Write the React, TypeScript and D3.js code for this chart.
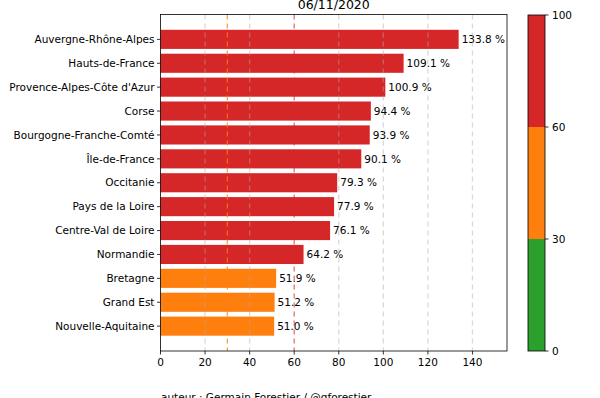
import * as d3 from 'd3';

const regions = [
  'Auvergne-Rhône-Alpes', 'Hauts-de-France', "Provence-Alpes-Côte d'Azur", 'Corse',
  'Bourgogne-Franche-Comté', 'Île-de-France', 'Occitanie', 'Pays de la Loire',
  'Centre-Val de Loire', 'Normandie', 'Bretagne', 'Grand Est', 'Nouvelle-Aquitaine',
];
const rates = [133.8, 109.1, 100.9, 94.4, 93.9, 90.1, 79.3, 77.9, 76.1, 64.2, 51.9, 51.2, 51.0];
const xTicks = [0, 20, 40, 60, 80, 100, 120, 140];
const gridTicks = [20, 40, 80, 100, 120, 140];
const cbBounds = [0, 30, 60, 100];
const cbColors = ['#2ca02c', '#ff7f0e', '#d62728'];

const W = 600, H = 398;
const left = 160.5, right = 507, top = 14.5, bottom = 351;
const font = 'DejaVu Sans, sans-serif';
const fs = 10.5;

function colorFor(v: number) {
  return v >= 60 ? '#d62728' : v >= 30 ? '#ff7f0e' : '#2ca02c';
}

export default function App() {
  const x = d3.scaleLinear().domain([0, 155.5]).range([left, right]);
  const y = d3.scaleLinear().domain([-1.04, 12 + 1.04]).range([top, bottom]);
  const bh = y(0.4) - y(-0.4);
  // boundary norm: each interval gets equal length on the colorbar
  const cb = d3.scaleLinear().domain(cbBounds).range([351, 239, 127, 15]);
  const cbL = 528, cbR = 545;

  return (
    <svg width={W} height={H} style={{ position: 'absolute', left: 0, top: 0, background: '#fff' }}
      fontFamily={font}>
      {/* bars */}
      {rates.map((v, i) => (
        <g key={regions[i]}>
          <rect x={x(0)} y={y(i) - bh / 2} width={x(v) - x(0)} height={bh} fill={colorFor(v)} />
          <text x={x(v) + 3} y={y(i)} dy="0.35em" fontSize={fs} fill="#000">
            {v.toFixed(1)} %
          </text>
          <line x1={left - 3.5} x2={left} y1={y(i)} y2={y(i)} stroke="#000" strokeWidth={0.8} />
          <text x={left - 6} y={y(i)} dy="0.35em" textAnchor="end" fontSize={fs} fill="#000">
            {regions[i]}
          </text>
        </g>
      ))}

      {/* reference lines */}
      {gridTicks.map((t) => (
        <line key={t} x1={x(t)} x2={x(t)} y1={top} y2={bottom} stroke="#aaa" strokeOpacity={0.45}
          strokeWidth={1.3} strokeDasharray="5,4" />
      ))}
      <line x1={x(30)} x2={x(30)} y1={top} y2={bottom} stroke="#ff7f0e" strokeOpacity={0.75}
        strokeWidth={1.3} strokeDasharray="5,4" />
      <line x1={x(60)} x2={x(60)} y1={top} y2={bottom} stroke="#d62728" strokeOpacity={0.65}
        strokeWidth={1.3} strokeDasharray="5,4" />

      {/* frame */}
      <rect x={left} y={top} width={right - left} height={bottom - top} fill="none" stroke="#000" strokeWidth={0.8} />

      {/* x axis */}
      {xTicks.map((t) => (
        <g key={t}>
          <line x1={x(t)} x2={x(t)} y1={bottom} y2={bottom + 3.5} stroke="#000" strokeWidth={0.8} />
          <text x={x(t)} y={bottom + 15} textAnchor="middle" fontSize={fs} fill="#000">{t}</text>
        </g>
      ))}

      <text x={(left + right) / 2} y={9} textAnchor="middle" fontSize={12.5} fill="#000">06/11/2020</text>

      {/* colorbar */}
      {cbColors.map((c, i) => (
        <rect key={c} x={cbL} y={cb(cbBounds[i + 1])} width={cbR - cbL}
          height={cb(cbBounds[i]) - cb(cbBounds[i + 1])} fill={c} />
      ))}
      <rect x={cbL} y={cb(100)} width={cbR - cbL} height={cb(0) - cb(100)} fill="none" stroke="#000" strokeWidth={0.8} />
      {cbBounds.map((t) => (
        <g key={t}>
          <line x1={cbR} x2={cbR + 3.5} y1={cb(t)} y2={cb(t)} stroke="#000" strokeWidth={0.8} />
          <text x={cbR + 7} y={cb(t)} dy="0.35em" fontSize={fs} fill="#000">{t}</text>
        </g>
      ))}

      <text x={161} y={401} fontSize={fs} fill="#000">auteur : Germain Forestier / @gforestier</text>
    </svg>
  );
}
